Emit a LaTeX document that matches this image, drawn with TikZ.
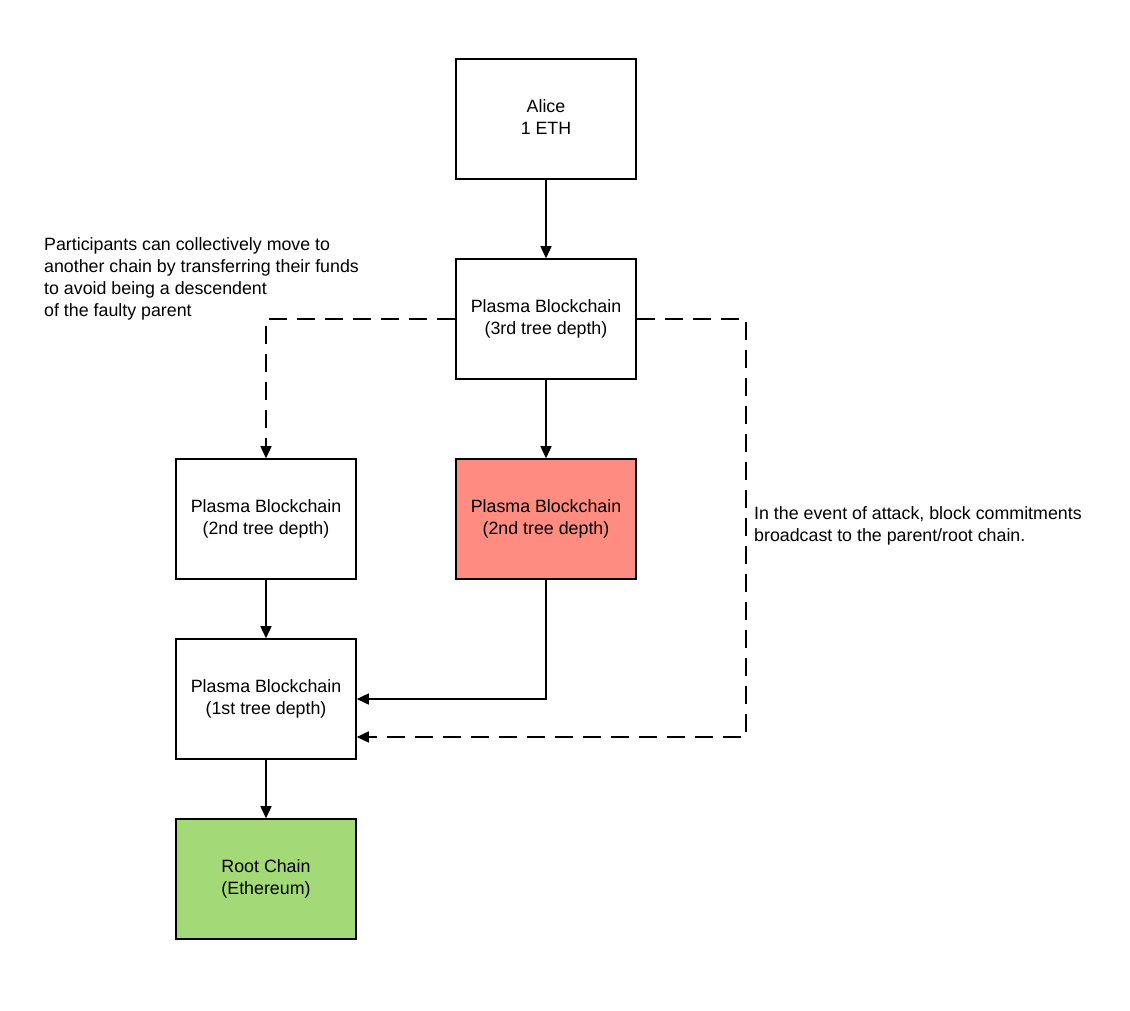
\documentclass[tikz,border=0pt]{standalone}
\usepackage{fontspec}
\setmainfont{Liberation Sans}
\usetikzlibrary{arrows.meta}
\definecolor{redfill}{HTML}{FF8C80}
\definecolor{greenfill}{HTML}{A3D977}
\newcommand\twolines[2]{\raisebox{1.5pt}{\begin{tabular}{@{}c@{}}#1\\#2\end{tabular}}}
\begin{document}
\begin{tikzpicture}[x=1pt,y=-1pt,
  box/.style={draw,line width=1.6pt,minimum width=180pt,minimum height=120pt,inner sep=0pt,font=\fontsize{17.8}{22}\selectfont},
  conn/.style={line width=1.6pt,-{Triangle[length=12pt,width=11pt]}},
  dconn/.style={conn,dash pattern=on 18pt off 10pt},
  note/.style={align=left,font=\fontsize{17.8}{22}\selectfont,inner sep=0pt,anchor=north west}]
\useasboundingbox (0,0) rectangle (1130,1010);
\node[box] (alice) at (546,119) {\twolines{Alice}{1 ETH}};
\node[box] (p3) at (546,319) {\twolines{Plasma Blockchain}{(3rd tree depth)}};
\node[box] (p2l) at (266,519) {\twolines{Plasma Blockchain}{(2nd tree depth)}};
\node[box,fill=redfill] (p2r) at (546,519) {\twolines{Plasma Blockchain}{(2nd tree depth)}};
\node[box] (p1) at (266,699) {\twolines{Plasma Blockchain}{(1st tree depth)}};
\node[box,fill=greenfill] (root) at (266,879) {\twolines{Root Chain}{(Ethereum)}};
\draw[conn] (alice) -- (p3);
\draw[conn] (p3) -- (p2r);
\draw[conn] (p2l) -- (p1);
\draw[conn] (p1) -- (root);
\draw[conn] (p2r.south) |- (p1.east);
\draw[dconn] (p3.west) -| (p2l.north);
\coordinate (c1) at (746,319);
\coordinate (c2) at (746,737);
\draw[dconn] (p3.east) -- (c1) -- (c2) -- (p1.east |- c2);
\node[note] (t1) at (44,237) {Participants can collectively move to\\another chain by transferring their funds\\to avoid being a descendent\\of the faulty parent};
\node[note] (t2) at (754,506) {In the event of attack, block commitments\\broadcast to the parent/root chain.};
\end{tikzpicture}
\end{document}
